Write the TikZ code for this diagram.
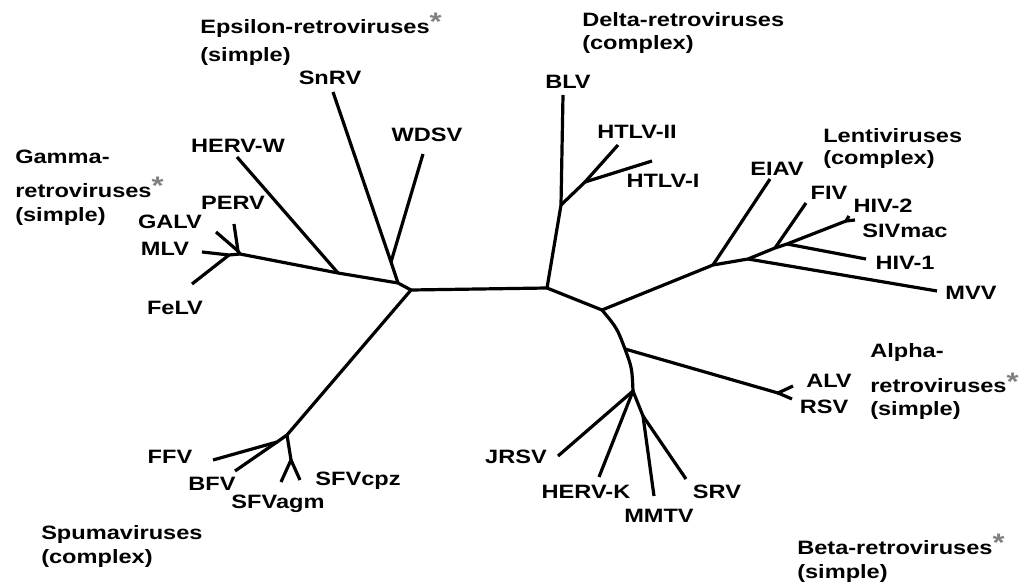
\documentclass[tikz,border=0pt]{standalone}
\usepackage{fontspec}
\setmainfont{Liberation Sans}[FakeStretch=1.22]
\usepackage{tikz}
\tikzstyle{virus} = [font=\bfseries\fontsize{14.5}{17.6}\selectfont, inner sep=0pt]
\tikzstyle{groupe} = [virus, align=left, anchor=base west]
\tikzstyle{branche} = [line width=2.4pt, line join=round]
\newcommand{\etoile}{{\color{gray}\raisebox{2pt}{\fontsize{19}{19}\selectfont *}}}

\begin{document}
\begin{tikzpicture}[x=0.75pt, y=-0.75pt]

        \useasboundingbox (0,0) rectangle (1026,585);

        % noeuds internes
        \coordinate (rL) at (411,290);
        \coordinate (rD) at (547,288);
        \coordinate (rR) at (602,310);
        \coordinate (gE) at (398,283);
        \coordinate (eps) at (391,262);
        \coordinate (hw) at (338,273);
        \coordinate (g1) at (240,254);
        \coordinate (pg) at (238,251);
        \coordinate (g2) at (229,255);
        \coordinate (sp) at (287,435);
        \coordinate (fb) at (277,442);
        \coordinate (sf) at (291,460);
        \coordinate (dJ) at (561,205);
        \coordinate (ht) at (585,182);
        \coordinate (l1) at (713,265);
        \coordinate (l2) at (748,259);
        \coordinate (l3) at (775,248);
        \coordinate (l4) at (787,244);
        \coordinate (hs) at (846,221);
        \coordinate (aJ) at (625,349);
        \coordinate (al) at (778,393);
        \coordinate (bJ) at (633,391);
        \coordinate (ms) at (643,416);

        % extremites
        \coordinate (snrv) at (333,92);
        \coordinate (wdsv) at (423,154);
        \coordinate (hervw) at (237,157);
        \coordinate (perv) at (234,224);
        \coordinate (galv) at (216,232);
        \coordinate (mlv) at (202,252);
        \coordinate (felv) at (192,284);
        \coordinate (ffv) at (213,460);
        \coordinate (bfv) at (235,471);
        \coordinate (sfvagm) at (281,482);
        \coordinate (sfvcpz) at (300,480);
        \coordinate (blv) at (563,95);
        \coordinate (htlv2) at (618,145);
        \coordinate (htlv1) at (652,161);
        \coordinate (eiav) at (770,179);
        \coordinate (fiv) at (806,203);
        \coordinate (hiv2) at (849,216);
        \coordinate (sivmac) at (855,220);
        \coordinate (hiv1) at (866,259);
        \coordinate (mvv) at (937,291);
        \coordinate (alv) at (793,386);
        \coordinate (rsv) at (792,399);
        \coordinate (jrsv) at (558,456);
        \coordinate (hervk) at (599,477);
        \coordinate (mmtv) at (654,496);
        \coordinate (srv) at (686,479);

        % branches
        \draw[branche] (rL) -- (gE) -- (hw) -- (g1);
        \draw[branche] (gE) -- (eps) -- (snrv);
        \draw[branche] (eps) -- (wdsv);
        \draw[branche] (hw) -- (hervw);
        \draw[branche] (g1) -- (pg) -- (perv);
        \draw[branche] (pg) -- (galv);
        \draw[branche] (g1) -- (g2) -- (mlv);
        \draw[branche] (g2) -- (felv);

        \draw[branche] (rL) -- (sp) -- (fb) -- (ffv);
        \draw[branche] (fb) -- (bfv);
        \draw[branche] (sp) -- (sf) -- (sfvagm);
        \draw[branche] (sf) -- (sfvcpz);

        \draw[branche] (rL) -- (rD) -- (dJ) -- (blv);
        \draw[branche] (dJ) -- (ht) -- (htlv2);
        \draw[branche] (ht) -- (htlv1);

        \draw[branche] (rD) -- (rR) -- (l1) -- (l2) -- (l3) -- (l4) -- (hs) -- (hiv2);
        \draw[branche] (hs) -- (sivmac);
        \draw[branche] (l4) -- (hiv1);
        \draw[branche] (l3) -- (fiv);
        \draw[branche] (l2) -- (mvv);
        \draw[branche] (l1) -- (eiav);

        \draw[branche] (rR) .. controls (617,328) .. (aJ) .. controls (632,368) .. (bJ);
        \draw[branche] (aJ) -- (al) -- (alv);
        \draw[branche] (al) -- (rsv);
        \draw[branche] (bJ) -- (jrsv);
        \draw[branche] (bJ) -- (hervk);
        \draw[branche] (bJ) -- (ms) -- (mmtv);
        \draw[branche] (ms) -- (srv);

        % noms des virus
        \node (tSnRV) [virus] at (330,78) {SnRV};
        \node (tWDSV) [virus] at (427,135) {WDSV};
        \node (tHERVW) [virus] at (238,146) {HERV-W};
        \node (tPERV) [virus] at (233,203) {PERV};
        \node (tGALV) [virus] at (170,222) {GALV};
        \node (tMLV) [virus] at (165,249) {MLV};
        \node (tFeLV) [virus] at (175,308) {FeLV};
        \node (tBLV) [virus] at (568,82) {BLV};
        \node (tHTLVII) [virus] at (637,132) {HTLV-II};
        \node (tHTLVI) [virus] at (663,181) {HTLV-I};
        \node (tEIAV) [virus] at (777,169) {EIAV};
        \node (tFIV) [virus] at (829,193) {FIV};
        \node (tHIVii) [virus] at (883,206) {HIV-2};
        \node (tSIVmac) [virus] at (905,231) {SIVmac};
        \node (tHIVi) [virus] at (905,263) {HIV-1};
        \node (tMVV) [virus] at (971,293) {MVV};
        \node (tALV) [virus] at (829,381) {ALV};
        \node (tRSV) [virus] at (824,407) {RSV};
        \node (tJRSV) [virus] at (516,457) {JRSV};
        \node (tHERVK) [virus] at (586,492) {HERV-K};
        \node (tMMTV) [virus] at (659,516) {MMTV};
        \node (tSRV) [virus] at (717,492) {SRV};
        \node (tFFV) [virus] at (170,457) {FFV};
        \node (tBFV) [virus] at (212,484) {BFV};
        \node (tSFVagm) [virus] at (278,504) {SFVagm};
        \node (tSFVcpz) [virus] at (358,481) {SFVcpz};

        % familles (point de base = derniere ligne)
        \node (gamma) [groupe] at (15,222) {Gamma-\\[7.4pt] retroviruses\etoile\\[1pt] (simple)};
        \node (epsilon) [groupe] at (200,62) {Epsilon-retroviruses\etoile\\[4pt] (simple)};
        \node (delta) [groupe] at (582,50) {Delta-retroviruses\\ (complex)};
        \node (lenti) [groupe] at (823,165) {Lentiviruses\\[-1pt] (complex)};
        \node (alpha) [groupe] at (870,415) {Alpha-\\[7.4pt] retroviruses\etoile\\[-1pt] (simple)};
        \node (spuma) [groupe] at (41,563) {Spumaviruses\\ (complex)};
        \node (beta) [groupe] at (797,578) {Beta-retroviruses\etoile\\ (simple)};

    \end{tikzpicture}
\end{document}
